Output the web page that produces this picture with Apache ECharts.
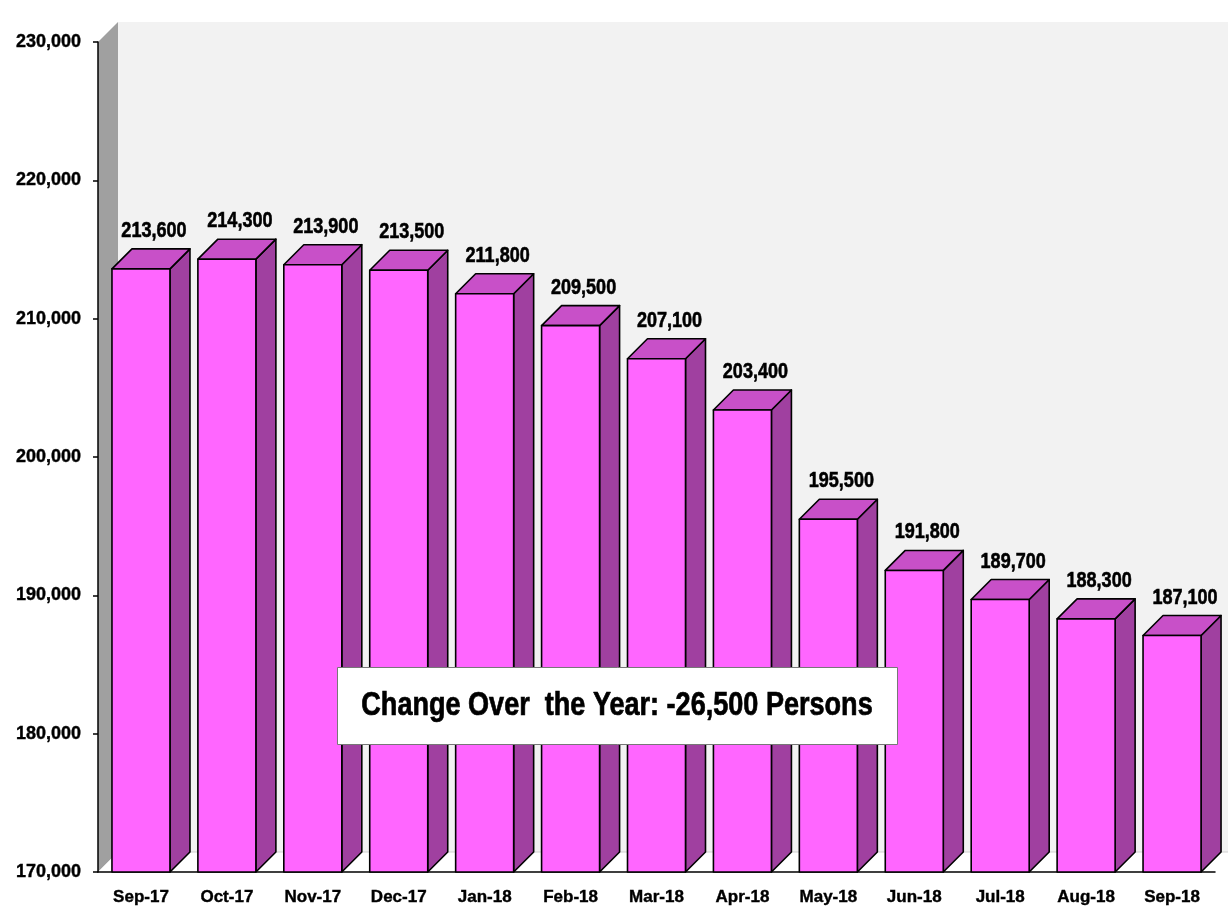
<!DOCTYPE html>
<html lang="en">
<head>
    <meta charset="UTF-8">
    <title>Persons by Month</title>
    <script src="https://cdn.jsdelivr.net/npm/echarts@6/dist/echarts.min.js"></script>
    <style>
        html, body {
            margin: 0;
            padding: 0;
            background: #ffffff;
        }
        #main {
            width: 1228px;
            height: 909px;
        }
    </style>
</head>
<body>
<div id="main"></div>
<script>
    // data
    var months = ['Sep-17', 'Oct-17', 'Nov-17', 'Dec-17', 'Jan-18', 'Feb-18', 'Mar-18',
        'Apr-18', 'May-18', 'Jun-18', 'Jul-18', 'Aug-18', 'Sep-18'];
    var persons = [213600, 214300, 213900, 213500, 211800, 209500, 207100,
        203400, 195500, 191800, 189700, 188300, 187100];
    var yMin = 170000, yMax = 230000, yStep = 10000;
    var note = 'Change Over  the Year: -26,500 Persons';

    var FONT = '"Liberation Sans", Arial, sans-serif';
    var NARROW = 0.82;   // squeeze text a bit, the original uses a narrow face
    var DEPTH = 20;      // 3d offset in px
    var BAR_W = 58;

    var chart = echarts.init(document.getElementById('main'));

    // back wall, left wall and floor
    function renderWalls(params, api) {
        var cs = params.coordSys;
        var x = cs.x, y = cs.y, w = cs.width, h = cs.height, d = DEPTH;
        return {
            type: 'group',
            children: [
                { type: 'rect', shape: { x: x + d, y: y - d, width: w, height: h }, style: { fill: '#F2F2F2' } },
                { type: 'polygon', shape: { points: [[x, y], [x + d, y - d], [x + d, y + h - d], [x, y + h]] },
                  style: { fill: '#A0A0A0' } },
                { type: 'polygon', shape: { points: [[x, y + h], [x + d, y + h - d], [x + w + d, y + h - d], [x + w, y + h]] },
                  style: { fill: '#FFFFFF' } },
                { type: 'line', shape: { x1: x + d, y1: y + h - d, x2: x + w + d, y2: y + h - d },
                  style: { stroke: '#D0D0D0', lineWidth: 1 } }
            ]
        };
    }

    // one 3d bar: front, top and side faces
    function renderBar(params, api) {
        var top = api.coord([api.value(0), api.value(1)]);
        var base = api.coord([api.value(0), yMin]);
        var d = DEPTH;
        var l = top[0] - BAR_W / 2, r = top[0] + BAR_W / 2;
        var ty = top[1], by = base[1];
        var line = { stroke: '#000', lineWidth: 1.6, lineJoin: 'round' };
        return {
            type: 'group',
            children: [
                { type: 'polygon', shape: { points: [[r, ty], [r + d, ty - d], [r + d, by - d], [r, by]] },
                  style: Object.assign({ fill: '#A040A0' }, line) },
                { type: 'polygon', shape: { points: [[l, ty], [l + d, ty - d], [r + d, ty - d], [r, ty]] },
                  style: Object.assign({ fill: '#C850C8' }, line) },
                { type: 'rect', shape: { x: l, y: ty, width: BAR_W, height: by - ty },
                  style: Object.assign({ fill: '#FF66FF' }, line) },
                { type: 'text', x: top[0] + d / 2 + 3, y: ty - d - 7, scaleX: NARROW,
                  style: {
                      text: echarts.format.addCommas(api.value(1)),
                      fill: '#000', stroke: '#000', lineWidth: 0.6,
                      font: 'bold 22px ' + FONT,
                      align: 'center', verticalAlign: 'bottom'
                  } }
            ]
        };
    }

    chart.setOption({
        animation: false,
        grid: { left: 98, right: 13, top: 42, bottom: 37 },
        xAxis: {
            type: 'category',
            data: months,
            axisLine: { lineStyle: { color: '#000', width: 1.5 } },
            axisTick: { show: false },
            axisLabel: {
                interval: 0, color: '#000', fontFamily: FONT, fontWeight: 'bold', fontSize: 17, margin: 17,
                textBorderColor: '#000', textBorderWidth: 0.4
            }
        },
        yAxis: {
            type: 'value',
            min: yMin,
            max: yMax,
            interval: yStep,
            axisLine: { show: true, lineStyle: { color: '#000', width: 1.5 } },
            axisTick: { show: true, length: 5, lineStyle: { color: '#000', width: 1.5 } },
            splitLine: { show: false },
            axisLabel: {
                color: '#000', fontFamily: FONT, fontWeight: 'bold', fontSize: 18, margin: 17,
                textBorderColor: '#000', textBorderWidth: 0.4,
                formatter: function (v) { return echarts.format.addCommas(v); }
            }
        },
        series: [
            {
                type: 'custom',
                name: 'walls',
                z: -1,
                silent: true,
                renderItem: renderWalls,
                data: [[0, yMin]]
            },
            {
                type: 'custom',
                name: 'persons',
                renderItem: renderBar,
                encode: { x: 0, y: 1 },
                data: persons.map(function (v, i) { return [i, v]; })
            }
        ],
        graphic: [
            { type: 'rect', left: 337, top: 667, z: 100, zlevel: 1,
              shape: { width: 560, height: 77 },
              style: { fill: '#fff', stroke: '#777', lineWidth: 1 } },
            { type: 'text', x: 617, y: 706, z: 101, zlevel: 1, scaleX: NARROW,
              style: { text: note, fill: '#000', stroke: '#000', lineWidth: 0.7,
                       font: 'bold 33px ' + FONT,
                       align: 'center', verticalAlign: 'middle' } }
        ]
    });
</script>
</body>
</html>
